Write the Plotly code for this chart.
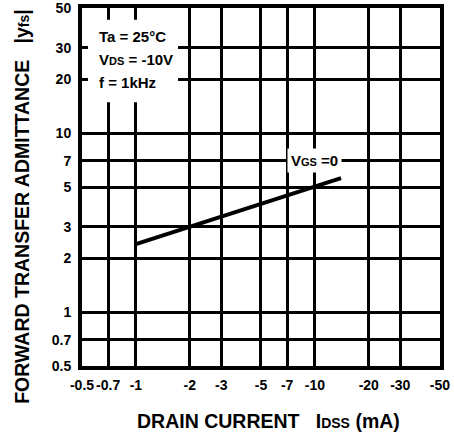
import math
import plotly.graph_objects as go

# data (magnitudes; axis labels show negative drain current)
idss_ma = [1.0, 14.0]
yfs = [2.4, 5.6]

x_ticks = [0.5, 0.7, 1, 2, 3, 5, 7, 10, 20, 30, 50]
x_tick_labels = ["-0.5", "-0.7", "-1", "-2", "-3", "-5", "-7", "-10", "-20", "-30", "-50"]
y_ticks = [0.5, 0.7, 1, 2, 3, 5, 7, 10, 20, 30, 50]
y_tick_labels = ["0.5", "0.7", "1", "2", "3", "5", "7", "10", "20", "30", "50"]

FONT = "Liberation Sans, Arial, sans-serif"

fig = go.Figure()
fig.add_trace(go.Scatter(x=idss_ma, y=yfs, mode="lines",
                         line=dict(color="black", width=4), showlegend=False))

axis_common = dict(
    type="log", showgrid=True, gridcolor="black", gridwidth=3,
    showline=True, linecolor="black", linewidth=4, mirror="ticks",
    ticks="inside", ticklen=6, tickwidth=3, tickcolor="black",
    zeroline=False, automargin=False, tickangle=0,
    tickfont=dict(family=FONT, size=14, color="black", weight="bold"),
)

fig.update_xaxes(range=[math.log10(0.5), math.log10(50.01)],
                 tickvals=x_ticks, ticktext=x_tick_labels, ticklabelstandoff=3, **axis_common)
fig.update_yaxes(range=[math.log10(0.5), math.log10(50.01)],
                 tickvals=y_ticks, ticktext=y_tick_labels, ticklabelstandoff=4, **axis_common)

# white box behind conditions text (interrupts gridlines)
fig.add_shape(type="rect", xref="x", yref="y", x0=0.5, x1=1.72, y0=14.9, y1=43,
              fillcolor="white", line=dict(width=0), layer="between")

bold = dict(family=FONT, size=15, color="black", weight="bold")
small = "<span style='font-size:11px'>{}</span>"

for txt, yp in [("Ta = 25°C", 0.919),
                ("V" + small.format("DS") + " = -10V", 0.855),
                ("f = 1kHz", 0.793)]:
    fig.add_annotation(text=txt, xref="paper", yref="paper", x=0.042, y=yp,
                       xanchor="left", yanchor="middle", showarrow=False, font=bold)

fig.add_annotation(text="V" + small.format("GS") + " =0", xref="x", yref="y",
                   x=math.log10(10), y=math.log10(7),
                   showarrow=False, font=bold, bgcolor="white", borderpad=3)

small2 = "<span style='font-size:14px'>{}</span>"
fig.add_annotation(text="DRAIN CURRENT   I" + small2.format("DSS") + " (mA)",
                   xref="paper", yref="paper", x=0.52, y=-0.154,
                   xanchor="center", yanchor="middle", showarrow=False,
                   font=dict(family=FONT, size=19.5, color="black", weight="bold"))
fig.add_annotation(text="FORWARD TRANSFER ADMITTANCE   |y" + small2.format("fs") + "|",
                   xref="paper", yref="paper", x=-0.168, y=0.447, textangle=-90,
                   xanchor="center", yanchor="middle", showarrow=False,
                   font=dict(family=FONT, size=19.5, color="black", weight="bold"))

fig.update_layout(width=454, height=439, margin=dict(l=82, r=14, t=8, b=73, autoexpand=False),
                  plot_bgcolor="white", paper_bgcolor="white")

fig.write_html("out.html", config={"displayModeBar": False},
               post_script="document.body.style.margin='0';")
